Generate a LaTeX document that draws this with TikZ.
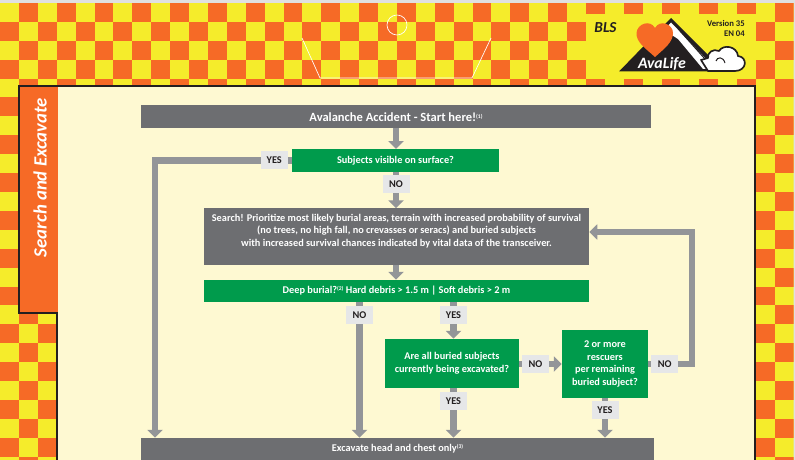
\documentclass[tikz,border=0pt]{standalone}
\usepackage{fontspec}
\setmainfont{Carlito}
\usetikzlibrary{arrows.meta,calc}
\definecolor{aOrange}{RGB}{246,106,38}
\definecolor{aYellow}{RGB}{245,236,43}
\definecolor{aCream}{RGB}{254,249,210}
\definecolor{aGreen}{RGB}{0,155,76}
\definecolor{aSlate}{RGB}{109,110,113}
\definecolor{aFlow}{RGB}{147,149,152}
\definecolor{aTag}{RGB}{230,231,232}
\definecolor{aInk}{RGB}{35,31,32}
\definecolor{aEdge}{RGB}{224,224,224}
\newcommand{\notemark}[1]{\raisebox{2.6pt}{\fontsize{4.8}{5}\selectfont(#1)}}
\begin{document}
\begin{tikzpicture}[
				x=0.03cm,y=-0.03cm,
				n/.style={
					rectangle,inner sep=0pt,align=center,text=white,
					font=\fontsize{8.8}{11}\selectfont\bfseries
				},
				slatebox/.style={n,fill=aSlate},
				greenbox/.style={n,fill=aGreen},
				tag/.style={
					rectangle,fill=aTag,text=aInk,inner sep=0pt,
					minimum width=0.81cm,minimum height=0.54cm,
					font=\fontsize{8.8}{10}\selectfont\bfseries
				},
				flow/.style={
					-{Triangle[length=0.24cm,width=0.45cm]},
					aFlow,line width=0.195cm
				},
				logoink/.style={aInk,line join=round}
				]
				\useasboundingbox (0,0) rectangle (795,460);

				% checker ground
				\fill[aEdge] (0,0) rectangle (795,460);
				\begin{scope}
					\clip (0,3) rectangle (793.5,460);
					\fill[aYellow] (0,3) rectangle (793.5,460);
					\foreach \row in {0,...,24}
					\foreach \col in {0,...,41} {
						\pgfmathparse{int(mod(\row+\col,2))}
						\ifnum\pgfmathresult=1
						\fill[aOrange] (\col*18.9,3+\row*18.9) rectangle ++(18.9,18.9);
						\fi
					}
				\end{scope}

				% white marks in the top band
				\draw[white,line width=0.02cm] (397,25) circle (10);
				\draw[white,line width=0.02cm] (302,38) -- (320,78) -- (472,78) -- (491,38);

				% panel and side tab
				\fill[aYellow] (585.5,14) rectangle (755.5,79);
				\draw[aInk,fill=aCream,line width=0.05cm]
				(19,86) -- (755,86) -- (755,462) -- (57,462) -- (57,313) -- (19,313) -- cycle;
				\fill[aOrange] (20,87) rectangle (58,312);
				\node[n,rotate=90,font=\fontsize{16}{18}\selectfont\bfseries\itshape] (tabtitle) at (40,177.5) {Search and Excavate};

				% logo
				\fill[logoink] (619,71.5) -- (671,18) -- (713,60) -- (713,71.5) -- cycle;
				\fill[white] (671,22.5) -- (708,61) -- (708,69) -- (703,69) -- (678,39) -- (664,30) -- cycle;
				\fill[aOrange] (655,57) .. controls (645,48) and (636,42) .. (636.5,33)
				.. controls (637,24) and (650,19) .. (655,28)
				.. controls (660,19) and (673,24) .. (673,33)
				.. controls (673,42) and (665,48) .. (655,57);
				\draw[aInk,line width=0.03cm] (680,31) -- (705,59);
				\draw[aInk,fill=white,line width=0.05cm,line join=round] (708,71) -- (735,71)
				.. controls (747,71) and (748,57) .. (738,56)
				.. controls (737,46) and (723,44) .. (719,51)
				.. controls (713,48) and (707,53) .. (708,58) -- (701,60) -- cycle;
				\draw[aInk,line width=0.03cm] (716,61) .. controls (717,57) and (723,56) .. (725,63);
				\node[n,font=\fontsize{13.5}{14}\selectfont\bfseries\itshape] (logoname) at (662,63.5) {AvaLife};
				\node[n,text=aInk,font=\fontsize{13}{14}\selectfont\bfseries\itshape] (blstitle) at (605.5,28) {BLS};
				\node[n,text=aInk,align=right,anchor=east,font=\fontsize{7.4}{8}\selectfont\bfseries] (versionnote) at (745,28.5) {Version 35\\EN 04};

				% boxes
				\node[slatebox,minimum width=15.3cm,minimum height=0.675cm,font=\fontsize{10.7}{11}\selectfont\bfseries]
				(start) at (396,116.75) {Avalanche Accident - Start here!\notemark{1}};
				\node[greenbox,minimum width=6.21cm,minimum height=0.675cm] (visible) at (395.5,160.5) {Subjects visible on surface?};
				\node[slatebox,minimum width=11.55cm,minimum height=1.695cm] (search) at (396.5,236.75)
				{Search! Prioritize most likely burial areas, terrain with increased probability of survival\\
					(no trees, no high fall, no crevasses or seracs) and buried subjects\\
					with increased survival chances indicated by vital data of the transceiver.\\ \mbox{}};
				\node[greenbox,minimum width=11.55cm,minimum height=0.66cm] (deep) at (396.5,291)
				{Deep burial?\notemark{2} Hard debris > 1.5 m | Soft debris > 2 m};
				\node[greenbox,minimum width=4.02cm,minimum height=1.47cm] (alldug) at (452,363.5)
				{Are all buried subjects\\currently being excavated?};
				\node[greenbox,minimum width=2.58cm,minimum height=2.04cm] (rescuers) at (605,364)
				{2 or more\\rescuers\\per remaining\\buried subject?};
				\node[slatebox,minimum width=15.39cm,minimum height=0.66cm] (excavate) at (397.5,449)
				{Excavate head and chest only\notemark{3}};

				% lanes that do not sit on a box centre
				\coordinate (surfacelane) at (155,300);
				\coordinate (nolane) at (359.5,300);
				\coordinate (yeslane) at (453.5,300);
				\coordinate (backturn) at (692,364);
				\coordinate (searchin) at (589.25,232);

				\draw[flow] (start.south) -- (start.south |- visible.north);
				\draw[flow] (visible.west) -| node[tag,pos=0.064] (tagvisible) {YES} (surfacelane |- excavate.north);
				\draw[flow] (visible.south -| start) -- node[tag,pos=0.33] (tagsearch) {NO} (start |- search.north);
				\draw[flow] (start |- search.south) -- (start |- deep.north);
				\draw[flow] (nolane |- deep.south) -- node[tag,pos=0.096] (tagshallow) {NO} (nolane |- excavate.north);
				\draw[flow] (yeslane |- deep.south) -- node[tag,pos=0.35] (tagdeep) {YES} (yeslane |- alldug.north);
				\draw[flow] (yeslane |- alldug.south) -- node[tag,pos=0.26] (tagall) {YES} (yeslane |- excavate.north);
				\draw[flow] (alldug.east |- rescuers) -- node[tag,pos=0.38] (tagnotall) {NO} (rescuers.west);
				\draw[flow] (rescuers.south) -- node[tag,pos=0.30] (tagenough) {YES} (rescuers.south |- excavate.north);
				\draw[flow] (rescuers.east) -- node[tag,pos=0.375] (tagfew) {NO} (backturn) |- (searchin);
			\end{tikzpicture}
\end{document}
